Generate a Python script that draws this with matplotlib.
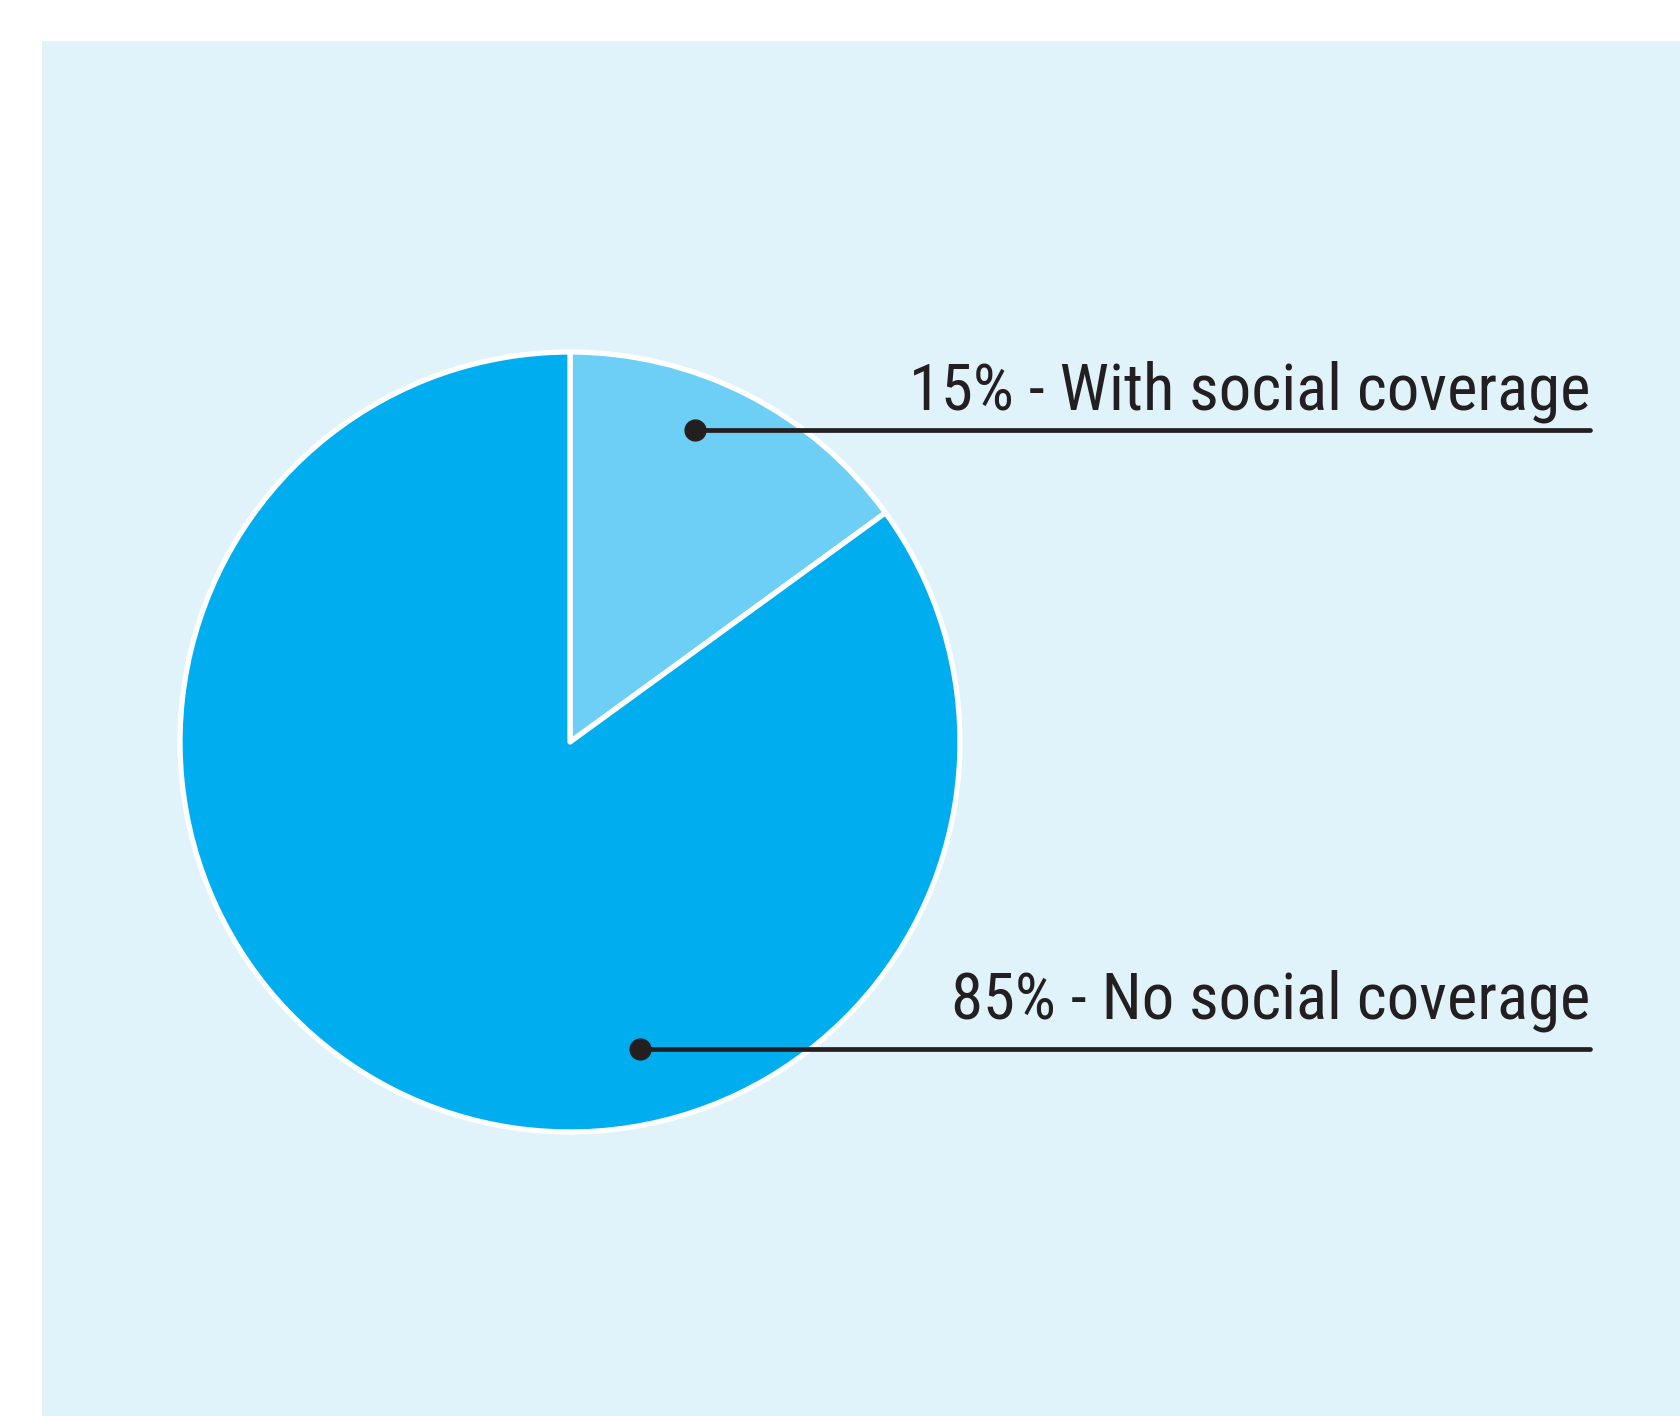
import matplotlib
matplotlib.use("Agg")
import matplotlib.pyplot as plt
from matplotlib.patches import Rectangle

labels = ["15% - With social coverage", "85% - No social coverage"]
shares = [15, 85]
colors = ["#6DCFF6", "#00AEEF"]

W, H = 1681, 1416
fig = plt.figure(figsize=(W / 100, H / 100), dpi=100)
ax = fig.add_axes([0, 0, 1, 1])

# light blue panel
ax.add_patch(Rectangle((42, 0), W - 42, H - 41, facecolor="#E0F3FB", edgecolor="none", zorder=0))

ax.pie(shares, colors=colors, startangle=90, counterclock=False,
       center=(570, 674), radius=390,
       wedgeprops=dict(edgecolor="white", linewidth=3.8, joinstyle="round"))
ax.set_xlim(0, W)
ax.set_ylim(0, H)
ax.set_aspect("equal")
ax.axis("off")

font = ["Roboto Condensed", "DejaVu Sans"]
dots = [(695, 986), (640, 367)]
text_dy = [20, 30]
x_end = 1590
for (x0, y0), dy, text in zip(dots, text_dy, labels):
    ax.plot([x0, x_end], [y0, y0], color="#231F20", linewidth=3.4, solid_capstyle="round", zorder=5)
    ax.plot(x0, y0, "o", color="#231F20", markersize=15, zorder=6)
    ax.text(x_end, y0 + dy, text, ha="right", va="baseline", fontsize=46.6,
            family=font, color="#231F20", zorder=6)

fig.savefig("out.png", dpi=100, facecolor="white")
